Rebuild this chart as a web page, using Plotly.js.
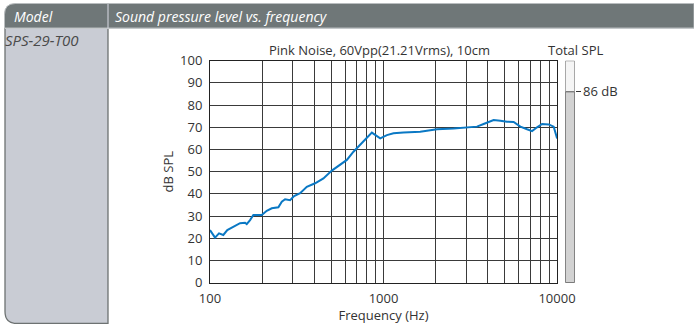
<!DOCTYPE html>
<html><head><meta charset="utf-8">
<script src="https://cdn.plot.ly/plotly-3.0.1.min.js"></script>
<style>body{margin:0;background:#fff}#c{width:694px;height:324px}</style>
</head><body><div id="c"></div>
<script>
// ---- data ----
const freqHz = [100,106.9,112.7,119.3,125.8,136.3,149,159.2,162.8,170.2,177.8,198.8,212.4,227,247.8,259.3,270.9,289.5,305.3,330.7,361.4,403.5,450.6,503.8,562.6,615,671.3,733.8,802.1,857,957.2,1046,1142,1304,1628,2033,2534,3164,3459,3776,4313,4715,5152,5626,6150,6722,7183,7676,8204,8958,9572,10014];
const splDb  = [23.7,20.3,22.2,21.5,23.7,25.0,26.8,27.0,26.4,28.2,30.5,30.5,32.4,33.5,34.0,36.5,37.6,37.2,39.0,40.3,43.2,44.8,47.0,50.5,53.0,55.3,59.0,62.0,65.0,67.6,65.0,66.5,67.3,67.7,68.0,69.1,69.5,70.3,70.3,71.5,73.3,73.0,72.5,72.4,70.3,69.1,68.3,70.0,71.5,71.3,70.3,65.0];
const totalSplDb = 86;
const totalSplLabel = "86 dB";
const freqTickVals = [100,200,300,400,500,600,700,800,900,1000,2000,3000,4000,5000,6000,7000,8000,9000,10000];
const freqTickText = ["100","","","","","","","","","1000","","","","","","","","","10000"];
const splTickVals = [0,10,20,30,40,50,60,70,80,90,100];
const headerModel = "Model";
const headerTitle = "Sound pressure level vs. frequency";
const modelName = "SPS-29-T00";
const chartTitle = "Pink Noise, 60Vpp(21.21Vrms), 10cm";
const totalTitle = "Total SPL";

// ---- layout helpers (pixel -> paper) ----
const W = 694, H = 324;
const px = x => x / W;
const py = y => 1 - y / H;
const font = "Open Sans, Liberation Sans, sans-serif";
const txt = "#333";

const traces = [
  {x: freqHz, y: splDb, type: "scatter", mode: "lines", xaxis: "x", yaxis: "y",
   line: {color: "#0a78c4", width: 2}, hoverinfo: "skip"},
  {x: [0], y: [100], type: "bar", xaxis: "x2", yaxis: "y2", width: 1,
   marker: {color: "#f5f5f5", line: {color: "#555", width: 1}}, hoverinfo: "skip"},
  {x: [0], y: [totalSplDb], type: "bar", xaxis: "x2", yaxis: "y2", width: 1,
   marker: {color: "#d2d2d2", line: {color: "#555", width: 1}}, hoverinfo: "skip"}
];

function rr(x0, y0, x1, y1, r, corner) {
  const rx = r / W, ry = r / H;
  const X0 = px(x0), X1 = px(x1), Y0 = py(y0), Y1 = py(y1);
  if (corner === "tl") {
    return `M ${X0},${Y1} L ${X0},${Y0 - ry} Q ${X0},${Y0} ${X0 + rx},${Y0} L ${X1},${Y0} L ${X1},${Y1} Z`;
  }
  return `M ${X0},${Y0} L ${X1},${Y0} L ${X1},${Y1} L ${X0 + rx},${Y1} Q ${X0},${Y1} ${X0},${Y1 + ry} Z`;
}

const shapes = [
  {type: "path", xref: "paper", yref: "paper", path: rr(5, 28, 108, 323.5, 12, "bl"),
   fillcolor: "#c9ccd4", line: {color: "#6d7272", width: 1.3}, layer: "below"},
  {type: "path", xref: "paper", yref: "paper", path: rr(4.5, 3.5, 694, 28, 11, "tl"),
   fillcolor: "#6f7778", line: {color: "#b9bdbf", width: 1}, layer: "below"},
  {type: "line", xref: "paper", yref: "paper", x0: px(108), x1: px(108), y0: py(4), y1: py(28),
   line: {color: "#c9ccd4", width: 1.2}},
  {type: "line", xref: "paper", yref: "paper", x0: px(5), x1: px(694), y0: py(28.5), y1: py(28.5),
   line: {color: "#c4c8ca", width: 1}}
];

const annotations = [
  {xref: "paper", yref: "paper", x: px(12), y: py(16), xanchor: "left", yanchor: "middle",
   text: "<i>" + headerModel + "</i>", showarrow: false, font: {family: font, size: 14, color: "#fff"}},
  {xref: "paper", yref: "paper", x: px(113), y: py(16), xanchor: "left", yanchor: "middle",
   text: "<i>" + headerTitle + "</i>", showarrow: false, font: {family: font, size: 14, color: "#fff"}},
  {xref: "paper", yref: "paper", x: px(3), y: py(40), xanchor: "left", yanchor: "middle",
   text: "<i>" + modelName + "</i>", showarrow: false, font: {family: font, size: 15, color: "#4a4a4a"}},
  {xref: "paper", yref: "paper", x: px(379), y: py(50), xanchor: "center", yanchor: "middle",
   text: chartTitle, showarrow: false, font: {family: font, size: 13, color: txt}},
  {xref: "paper", yref: "paper", x: px(575), y: py(50), xanchor: "center", yanchor: "middle",
   text: totalTitle, showarrow: false, font: {family: font, size: 13, color: txt}}
];

const layout = {
  width: W, height: H, margin: {l: 0, r: 0, t: 0, b: 0},
  paper_bgcolor: "#fff", plot_bgcolor: "#fff", showlegend: false, barmode: "overlay",
  font: {family: font, size: 13, color: txt},
  xaxis: {type: "log", domain: [px(210), px(557)], range: [2, 4], anchor: "y",
          tickvals: freqTickVals, ticktext: freqTickText, ticks: "", ticklabelstandoff: 4,
          showgrid: true, gridcolor: "#3a3a3a", gridwidth: 1,
          showline: true, linecolor: "#222", linewidth: 1, mirror: true, zeroline: false,
          tickfont: {size: 13, color: txt},
          title: {text: "Frequency (Hz)", font: {size: 13, color: txt}, standoff: 0}},
  yaxis: {domain: [py(282.7), py(60.7)], range: [0, 100], anchor: "x",
          tickvals: splTickVals, ticks: "", ticklabelstandoff: 4, showgrid: true, gridcolor: "#3a3a3a", gridwidth: 1,
          showline: true, linecolor: "#222", linewidth: 1, mirror: true, zeroline: false,
          tickfont: {size: 13, color: txt},
          title: {text: "dB SPL", font: {size: 13, color: txt}, standoff: 3}},
  xaxis2: {domain: [px(565.5), px(574.5)], range: [-0.5, 0.5], anchor: "y2",
           showticklabels: false, showgrid: false, zeroline: false, showline: false, ticks: ""},
  yaxis2: {domain: [py(282.7), py(60.7)], range: [0, 100], anchor: "x2", side: "right",
           tickvals: [totalSplDb], ticktext: [totalSplLabel], ticks: "outside", ticklen: 5,
           tickcolor: "#333", showgrid: false, zeroline: false, showline: false,
           tickfont: {size: 13, color: txt}},
  shapes: shapes, annotations: annotations
};

Plotly.newPlot("c", traces, layout, {staticPlot: true, displayModeBar: false});
</script>
</body></html>
